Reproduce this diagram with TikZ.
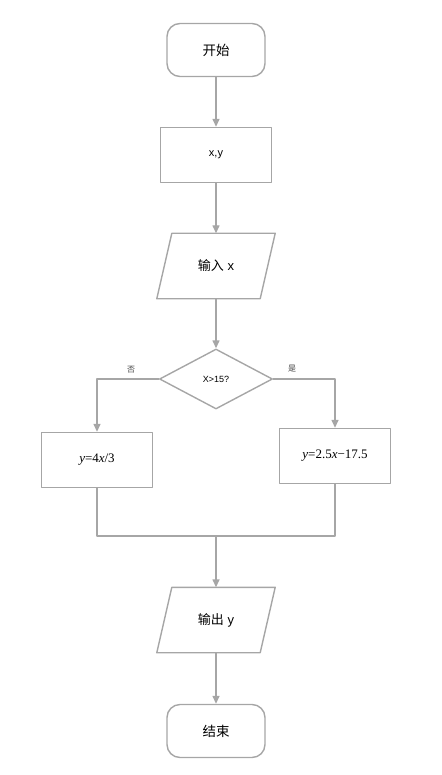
\documentclass[tikz,border=0pt]{standalone}
\usepackage{fontspec}
\setmainfont{Liberation Sans}
\newfontfamily\cjk{Noto Sans CJK SC}
\newfontfamily\formulafont{Liberation Serif}
\usetikzlibrary{arrows.meta,shapes.geometric}
\definecolor{linegray}{RGB}{166,166,166}
\tikzset{
  every picture/.style={line join=round, >={Triangle[length=8pt,width=7pt]}},
  flowline/.style={draw=linegray, line width=1.4pt},
  terminal/.style={flowline, rounded corners=13pt, minimum width=98pt, minimum height=53pt, font=\cjk\fontsize{13.5}{15}\selectfont},
  procbox/.style={flowline, minimum width=111pt, minimum height=55pt, font=\fontsize{11}{13}\selectfont},
  iobox/.style={minimum width=103pt, minimum height=65pt, font=\fontsize{13}{15}\selectfont},
  decision/.style={flowline, diamond, aspect=1.88, inner sep=0pt, minimum width=113pt, minimum height=60pt, font=\fontsize{9}{11}\selectfont},
  branchlabel/.style={font=\cjk\fontsize{8}{10}\selectfont, text=black!75},
}
\newcommand{\slantbox}[1]{%
  \draw[flowline] ([xshift=7.5pt]#1.north west) -- ([xshift=7.5pt]#1.north east)
    -- ([xshift=-7.5pt]#1.south east) -- ([xshift=-7.5pt]#1.south west) -- cycle;}
\begin{document}
\begin{tikzpicture}[x=1pt,y=-1pt]
\useasboundingbox (0,0) rectangle (441,775);
% nodes
\node[terminal] (start) at (216,50) {开始};
\node[procbox] (init) at (216,155) {x,y};
\node[iobox] (in) at (216,266) {{\cjk 输入} x};
\slantbox{in}
\node[decision] (test) at (216,379) {X>15?};
\node[procbox, font=\formulafont\fontsize{13}{15}\selectfont] (low) at (97,460) {\textit{y}=4\textit{x}/3};
\node[procbox, font=\formulafont\fontsize{13}{15}\selectfont] (high) at (335,456) {\textit{y}=2.5\textit{x}−17.5};
\coordinate (merge) at (216,536);
\node[iobox] (out) at (216,620) {{\cjk 输出} y};
\slantbox{out}
\node[terminal] (stop) at (216,731) {结束};
\node[branchlabel] (no) at (131,370) {否};
\node[branchlabel] (yes) at (292,369) {是};
% connectors
\draw[flowline,->] (start) -- (init);
\draw[flowline,->] (init) -- (in);
\draw[flowline,->] (in) -- (test);
\draw[flowline,->] (test.west) -| (low.north);
\draw[flowline,->] (test.east) -| (high.north);
\draw[flowline] (low.south) -- (low.south |- merge) -- (high.south |- merge) -- (high.south);
\draw[flowline,->] (merge) -- (out);
\draw[flowline,->] (out) -- (stop);
\end{tikzpicture}
\end{document}
